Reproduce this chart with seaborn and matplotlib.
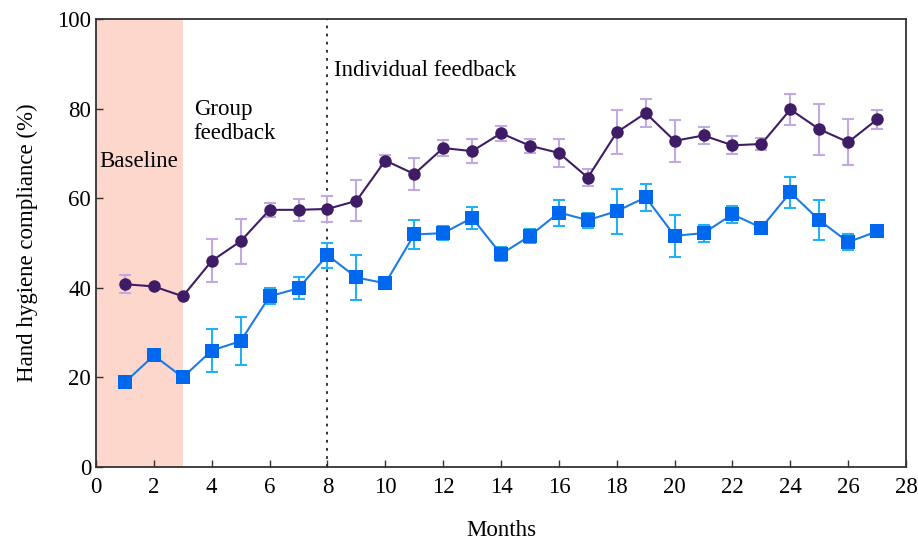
import matplotlib
matplotlib.use("Agg")
import matplotlib.pyplot as plt
import numpy as np
import pandas as pd
import seaborn as sns

months = list(range(1, 28))
group_a = [40.8, 40.3, 38.1, 46.0, 50.4, 57.4, 57.4, 57.6, 59.4, 68.4, 65.4, 71.2, 70.5, 74.5,
           71.7, 70.1, 64.6, 74.7, 79.0, 72.8, 74.0, 71.8, 72.1, 79.8, 75.4, 72.5, 77.6]
group_a_err = [2.0, 0, 0, 4.8, 5.0, 1.6, 2.4, 2.9, 4.6, 1.2, 3.5, 1.7, 2.7, 1.7,
               1.6, 3.2, 1.9, 4.9, 3.2, 4.7, 2.0, 2.0, 1.3, 3.4, 5.7, 5.2, 2.1]
group_b = [18.9, 24.9, 20.0, 26.0, 28.1, 38.1, 39.9, 47.3, 42.3, 41.0, 51.9, 52.2, 55.6, 47.5,
           51.6, 56.8, 55.1, 57.1, 60.2, 51.6, 52.2, 56.4, 53.4, 61.3, 55.1, 50.2, 52.6]
group_b_err = [0, 0, 0, 4.9, 5.3, 1.8, 2.5, 2.8, 5.1, 1.0, 3.3, 1.6, 2.5, 1.5,
               1.5, 2.9, 1.7, 5.0, 3.0, 4.7, 1.9, 1.9, 1.1, 3.5, 4.5, 1.7, 1.3]

df = pd.DataFrame({"month": months, "a": group_a, "a_err": group_a_err,
                   "b": group_b, "b_err": group_b_err})

sns.set_style("ticks")
plt.rcParams["font.family"] = ["Liberation Serif", "DejaVu Serif"]
plt.rcParams["xtick.direction"] = "in"
plt.rcParams["ytick.direction"] = "in"
plt.rcParams["text.color"] = "black"
plt.rcParams["axes.labelcolor"] = "black"
plt.rcParams["xtick.labelcolor"] = "black"
plt.rcParams["ytick.labelcolor"] = "black"

fs = 16.5

fig = plt.figure(figsize=(9.18, 5.41), dpi=100)
ax = fig.add_axes([0.1046, 0.1368, 0.8824, 0.8281])

# baseline period shading and start of individual feedback
ax.axvspan(0, 3, color="#fdd6cc", zorder=0, lw=0)
ax.axvline(8, color="#222222", linestyle=(0, (1.5, 3)), linewidth=1.3, zorder=1)

ax.errorbar(df["month"], df["a"], yerr=df["a_err"], fmt="none", ecolor="#c3a9e4",
            elinewidth=1.5, capsize=4, capthick=1.5, zorder=2)
ax.errorbar(df["month"], df["b"], yerr=df["b_err"], fmt="none", ecolor="#22b2f2",
            elinewidth=1.5, capsize=4, capthick=1.5, zorder=2)

sns.lineplot(data=df, x="month", y="a", ax=ax, color="#3f1d66", marker="o", markersize=9,
             markeredgewidth=0, linewidth=1.5, zorder=3)
sns.lineplot(data=df, x="month", y="b", ax=ax, color="#1c7ce2", marker="s", markersize=9.5,
             markerfacecolor="#0068ee", markeredgewidth=0, linewidth=1.5, zorder=3)

ax.text(0.1, 68.1, "Baseline", fontsize=fs, va="center", ha="left")
ax.text(3.38, 77.2, "Group\nfeedback", fontsize=fs, va="center", ha="left", linespacing=1.2)
ax.text(8.23, 88.6, "Individual feedback", fontsize=fs, va="center", ha="left")

ax.set_xlim(0, 28)
ax.set_ylim(0, 100)
ax.set_xticks(range(0, 29, 2))
ax.set_yticks(range(0, 101, 20))
ax.tick_params(axis="both", labelsize=fs, length=5, width=1, color="#333333",
               top=False, right=False)
ax.tick_params(axis="x", pad=7)
ax.set_xlabel("Months", fontsize=fs, labelpad=16)
ax.set_ylabel("Hand hygiene compliance (%)", fontsize=fs, labelpad=14)
for side in ["left", "right", "top", "bottom"]:
    ax.spines[side].set_color("#333333")
    ax.spines[side].set_linewidth(1.3)

fig.savefig("out.png", dpi=100)
